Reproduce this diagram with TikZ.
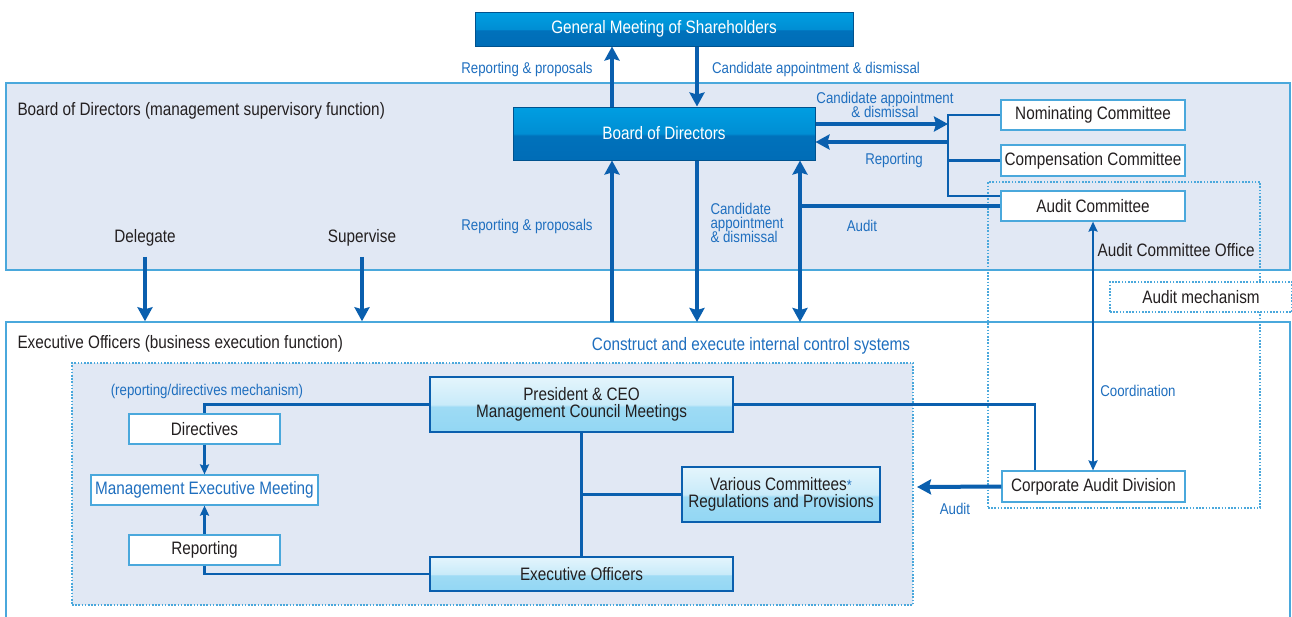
\documentclass[tikz,border=0pt]{standalone}
\usepackage{fontspec}
\setmainfont{Liberation Sans}[FakeStretch=0.85]
\usetikzlibrary{arrows.meta}

\definecolor{lineblue}{HTML}{0A5FAE}
\definecolor{labelblue}{HTML}{1F6FBF}
\definecolor{edgeblue}{HTML}{4AA8DC}
\definecolor{panelfill}{HTML}{E1E8F4}
\definecolor{ink}{HTML}{231F20}
\definecolor{deepbox}{HTML}{0067B2}
\definecolor{brightbox}{HTML}{00AEEF}
\definecolor{palebox}{HTML}{86D2F2}

\pgfdeclareverticalshading{deepband}{100bp}{color(0bp)=(deepbox); color(48bp)=(deepbox!85!brightbox); color(50bp)=(brightbox!55!deepbox); color(100bp)=(brightbox)}
\pgfdeclareverticalshading{paleband}{100bp}{color(0bp)=(palebox); color(48bp)=(palebox!80!white); color(50bp)=(palebox!45!white); color(100bp)=(white)}

\tikzset{
  boxfont/.style={font=\fontsize{18pt}{20pt}\selectfont},
  labelfont/.style={font=\fontsize{15.6pt}{17pt}\selectfont},
  panel/.style={draw=edgeblue, line width=1.5pt, fill=panelfill, inner sep=0pt},
  dotbox/.style={draw=edgeblue, line width=1.4pt, dash pattern=on 1.6pt off 1.6pt, inner sep=0pt, boxfont, text=ink},
  deepnode/.style={shading=deepband, draw=deepbox!80!black, line width=1pt, text=white, boxfont, align=center, inner sep=0pt},
  palenode/.style={shading=paleband, draw=lineblue, line width=1.2pt, text=ink, boxfont, align=center, inner sep=0pt},
  whitenode/.style={fill=white, draw=edgeblue, line width=1.2pt, text=ink, boxfont, align=center, inner sep=0pt},
  bluetext/.style={text=labelblue, labelfont},
  blacktext/.style={text=ink, boxfont},
  bigarrow/.style={draw=lineblue, line width=4pt, -{Stealth[length=14pt,width=15pt,inset=2pt]}},
  bigline/.style={draw=lineblue, line width=4pt},
  midline/.style={draw=lineblue, line width=2.8pt},
  smallarrow/.style={draw=lineblue, line width=2.4pt, -{Stealth[length=10pt,width=9pt,inset=1.5pt]}},
}

\begin{document}
\begin{tikzpicture}[x=1pt,y=-1pt]
    \useasboundingbox (0,0) rectangle (1292,616);

    % panels
    \node[panel, minimum width=1284pt, minimum height=187pt] (boardpanel) at (648,176.5) {};
    \node[panel, fill=white, minimum width=1284pt, minimum height=300pt] (execpanel) at (648,472) {};
    \node[dotbox, fill=panelfill, minimum width=841pt, minimum height=242pt] (ctrlarea) at (492.5,484) {};
    \node[dotbox, minimum width=272pt, minimum height=326pt] (officearea) at (1124,345) {};
    \node[dotbox, fill=white, minimum width=182pt, minimum height=30pt] (mechanism) at (1201,297) {Audit mechanism};

    % boxes
    \node[deepnode, minimum width=378pt, minimum height=34pt] (gms) at (664,29) {General Meeting of Shareholders};
    \node[deepnode, minimum width=302pt, minimum height=53pt] (bod) at (664,133.5) {Board of Directors};
    \node[whitenode, minimum width=184pt, minimum height=30pt] (nom) at (1093,115) {Nominating Committee};
    \node[whitenode, minimum width=184pt, minimum height=31pt] (comp) at (1093,160.5) {Compensation Committee};
    \node[whitenode, minimum width=184pt, minimum height=30pt] (auditc) at (1093,206) {Audit Committee};
    \node[palenode, minimum width=303pt, minimum height=55pt] (pres) at (581.5,404.5) {President \& CEO\\[-3pt]Management Council Meetings};
    \node[palenode, minimum width=303pt, minimum height=34pt] (execo) at (581.5,574) {Executive Officers};
    \node[palenode, minimum width=198pt, minimum height=55pt] (various) at (781,494.5) {Various Committees\textcolor{labelblue}{\fontsize{15pt}{15pt}\selectfont*}\\[-3pt]Regulations and Provisions};
    \node[whitenode, minimum width=151pt, minimum height=30pt] (dir) at (204.5,429) {Directives};
    \node[whitenode, text=labelblue, minimum width=227pt, minimum height=30pt] (mem) at (204.5,490) {Management Executive Meeting};
    \node[whitenode, minimum width=151pt, minimum height=30pt] (rep) at (204.5,550) {Reporting};
    \node[whitenode, minimum width=183pt, minimum height=31pt] (cad) at (1093.5,486.5) {Corporate Audit Division};

    % texts
    \node[blacktext, anchor=west] (boardtitle) at (14,111) {Board of Directors (management supervisory function)};
    \node[blacktext, anchor=west] (exectitle) at (14,344) {Executive Officers (business execution function)};
    \node[blacktext] (delegate) at (145,238) {Delegate};
    \node[blacktext] (supervise) at (362,238) {Supervise};
    \node[blacktext, anchor=west] (officetitle) at (1094,250) {Audit Committee Office};
    \node[bluetext] (uprep) at (527,69) {Reporting \& proposals};
    \node[bluetext] (upcand) at (816,69) {Candidate appointment \& dismissal};
    \node[bluetext, align=center] (rightcand) at (885,104.5) {Candidate appointment\\[-3pt]\& dismissal};
    \node[bluetext] (rightrep) at (894,160) {Reporting};
    \node[bluetext] (lowrep) at (527,226) {Reporting \& proposals};
    \node[bluetext, anchor=west, align=left] (lowcand) at (707,223) {Candidate\\[-3pt]appointment\\[-3pt]\& dismissal};
    \node[bluetext] (auditlbl) at (862,226) {Audit};
    \node[bluetext, boxfont] (construct) at (751,346) {Construct and execute internal control systems};
    \node[bluetext] (mechlbl) at (207,391) {(reporting/directives mechanism)};
    \node[bluetext] (coordlbl) at (1138,391) {Coordination};
    \node[bluetext] (cadlbl) at (955,509) {Audit};

    % free ends
    \coordinate (forkin) at (948,124);
    \coordinate (forkout) at (948,142);
    \coordinate (rpfoot) at (612,322);
    \coordinate (cdfoot) at (697,322);
    \coordinate (auditfoot) at (800,322);
    \coordinate (auditend) at (917,487);

    % top connectors
    \draw[bigarrow] ([xshift=-52pt]bod.north) -- ([xshift=-52pt]gms.south);
    \draw[bigarrow] ([xshift=33pt]gms.south) -- ([xshift=33pt]bod.north);
    \draw[bigarrow] ([yshift=9.5pt]bod.east) -- (forkin);
    \draw[bigarrow] (forkout) -- ([yshift=-8.5pt]bod.east);
    \draw[midline] (nom.west) -| ([yshift=10pt]auditc.west -| forkin) -- ([yshift=10pt]auditc.west);
    \draw[midline] (comp.west) -- (comp.west -| forkin);

    % between the panels
    \draw[bigarrow] (rpfoot) -- (bod.south -| rpfoot);
    \draw[bigarrow] (bod.south -| cdfoot) -- (cdfoot);
    \draw[bigline, {Stealth[length=14pt,width=15pt,inset=2pt]}-{Stealth[length=14pt,width=15pt,inset=2pt]}] (bod.south -| auditfoot) -- (auditfoot);
    \draw[bigline] (auditc.west) -- (auditc.west -| auditfoot);
    \draw[bigarrow] ([yshift=-7pt]delegate.south) -- (delegate.south |- execpanel.north);
    \draw[bigarrow] ([yshift=-7pt]supervise.south) -- (supervise.south |- execpanel.north);
    \draw[smallarrow, {Stealth[length=10pt,width=9pt,inset=1.5pt]}-{Stealth[length=10pt,width=9pt,inset=1.5pt]}] (auditc.south) -- (cad.north -| auditc.south);

    % executive side
    \draw[midline] (pres.west) -| (dir.north);
    \draw[smallarrow] (dir.south) -- (mem.north);
    \draw[smallarrow] (rep.north) -- (mem.south);
    \draw[midline] (rep.south) |- (execo.west);
    \draw[midline] (pres.south) -- (execo.north);
    \draw[midline] (various.west) -- (various.west -| pres.south);
    \draw[midline] (pres.east) -| ([xshift=-58.5pt]cad.north);
    \draw[bigarrow] (cad.west) -- (auditend);
\end{tikzpicture}
\end{document}
